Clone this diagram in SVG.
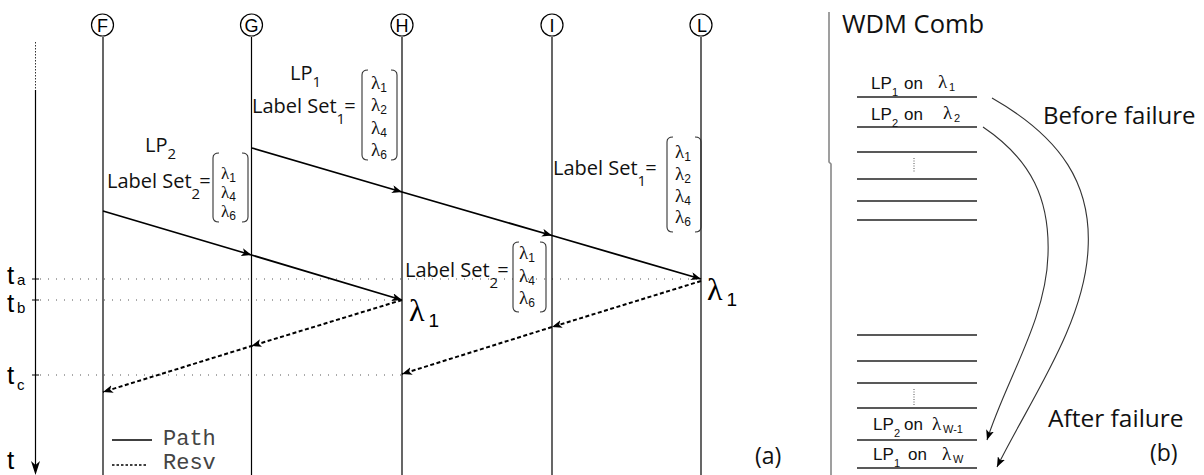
<svg xmlns="http://www.w3.org/2000/svg" width="1204" height="475" viewBox="0 0 1204 475">
<style>
.bg{fill:#fff}
.life{stroke:#000;stroke-width:1.2;fill:none}
.circ{fill:#fff;stroke:#000;stroke-width:1.2}
.ntxt{font-family:"Liberation Sans",Arial,sans-serif;font-size:18px;fill:#000;text-anchor:middle}
.lbl{font-family:"Open Sans","Liberation Sans",sans-serif;font-size:20px;fill:#111}
.sub{font-size:15px}
.lam{font-family:"Liberation Serif","DejaVu Serif",serif;font-size:19px;fill:#111}
.lam2{font-size:17px}
.lsub{font-family:"Liberation Sans",Arial,sans-serif;font-size:12px}
.brk{fill:none;stroke:#333;stroke-width:1.1}
.path{stroke:#000;stroke-width:1.8;fill:none}
.resv{stroke:#000;stroke-width:2;fill:none;stroke-dasharray:4 2.5}
.tdot{stroke:#555;stroke-width:1;stroke-dasharray:1 7;fill:none}
.tl{font-family:"Liberation Sans",Arial,sans-serif;font-size:26px;fill:#000}
.ts{font-family:"Liberation Sans",Arial,sans-serif;font-size:15px;fill:#000}
.big{font-family:"Liberation Serif","DejaVu Serif",serif;font-size:32px;fill:#000}
.bigs{font-family:"Liberation Sans",Arial,sans-serif;font-size:19px;fill:#000}
.mono{font-family:"Liberation Mono","Courier New",monospace;font-size:22px;fill:#444}
.comb{stroke:#222;stroke-width:1.4}
.ctxt{font-family:"Liberation Sans",Arial,sans-serif;font-size:17px;fill:#111}
.clam{font-family:"Liberation Serif","DejaVu Serif",serif;font-size:19px}
.csub{font-size:11px}
.curve{stroke:#333;stroke-width:1.1;fill:none}
</style>
<defs>
<marker id="ah" markerUnits="userSpaceOnUse" markerWidth="11" markerHeight="8" refX="10" refY="4" orient="auto" viewBox="0 0 11 8">
<path d="M0,0 L10,4 L0,8 L2.5,4 Z" fill="#000"/>
</marker>
<marker id="ah2" markerUnits="userSpaceOnUse" markerWidth="11" markerHeight="8" refX="10" refY="4" orient="auto" viewBox="0 0 11 8">
<path d="M0,0 L10,4 L0,8 L2.5,4 Z" fill="#000"/>
</marker>
</defs>
<rect class="bg" x="0" y="0" width="1204" height="475"/>

<!-- time axis -->
<g id="time-axis">
<line x1="35.5" y1="42" x2="35.5" y2="90" stroke="#333" stroke-width="1" stroke-dasharray="1.5 1.5"/>
<line x1="35.5" y1="90" x2="35.5" y2="466" stroke="#000" stroke-width="1.2"/>
<path d="M31,461 L35.5,475 L40,461 L35.5,465 Z" fill="#000"/>
<line x1="32" y1="279" x2="39" y2="279" stroke="#000" stroke-width="1"/>
<line x1="32" y1="300" x2="39" y2="300" stroke="#000" stroke-width="1"/>
<line x1="32" y1="375" x2="39" y2="375" stroke="#000" stroke-width="1"/>
<text class="tl" x="7" y="284">t</text><text class="ts" x="17" y="285">a</text>
<text class="tl" x="7" y="312">t</text><text class="ts" x="17" y="313">b</text>
<text class="tl" x="7" y="384">t</text><text class="ts" x="17" y="390">c</text>
<text class="tl" x="7" y="469">t</text>
</g>

<!-- time marker dotted lines -->
<g id="time-markers">
<line class="tdot" x1="40" y1="279" x2="701" y2="279"/>
<line class="tdot" x1="40" y1="300" x2="402" y2="300"/>
<line class="tdot" x1="40" y1="375" x2="402" y2="375"/>
</g>

<!-- nodes -->
<g id="node-F"><line class="life" x1="103" y1="37" x2="103" y2="475"/><circle class="circ" cx="102.5" cy="25" r="11"/><text class="ntxt" x="102.5" y="31.5">F</text></g>
<g id="node-G"><line class="life" x1="251.5" y1="37" x2="251.5" y2="475"/><circle class="circ" cx="251.5" cy="25" r="11"/><text class="ntxt" x="251.5" y="31.5">G</text></g>
<g id="node-H"><line class="life" x1="402" y1="37" x2="402" y2="475"/><circle class="circ" cx="402" cy="25" r="11"/><text class="ntxt" x="402" y="31.5">H</text></g>
<g id="node-I"><line class="life" x1="552" y1="37" x2="552" y2="475"/><circle class="circ" cx="552" cy="25" r="11"/><text class="ntxt" x="552" y="31.5">I</text></g>
<g id="node-L"><line class="life" x1="701" y1="37" x2="701" y2="475"/><circle class="circ" cx="701" cy="25" r="11"/><text class="ntxt" x="702" y="31.5">L</text></g>

<!-- connectors -->
<g id="connectors">
<polyline class="path" points="252,148 402,192 552,235.5 701,279" marker-mid="url(#ah)" marker-end="url(#ah)"/>
<polyline class="path" points="103,211 251.5,255 402,300" marker-mid="url(#ah)" marker-end="url(#ah)"/>
<polyline class="resv" points="402,300 251.5,346 103,392" marker-mid="url(#ah)" marker-end="url(#ah)"/>
<polyline class="resv" points="701,281 552,327 402,374" marker-mid="url(#ah)" marker-end="url(#ah)"/>
</g>

<!-- labels -->
<g id="lp1-label">
<text class="lbl" x="290" y="80">LP<tspan class="sub" dy="7">1</tspan></text>
<text class="lbl" x="252" y="113">Label Set<tspan class="sub" dy="11">1</tspan><tspan dy="-11" dx="-1">=</tspan></text>
<path class="brk" d="M368,70 Q362,70 362,75 L362,155 Q362,160 368,160 M391,70 Q397,70 397,75 L397,155 Q397,160 391,160"/>
<text class="lam" x="371" y="89">λ<tspan class="lsub" dy="3">1</tspan></text>
<text class="lam" x="371" y="111">λ<tspan class="lsub" dy="3">2</tspan></text>
<text class="lam" x="371" y="134">λ<tspan class="lsub" dy="3">4</tspan></text>
<text class="lam" x="371" y="156">λ<tspan class="lsub" dy="3">6</tspan></text>
</g>

<g id="lp2-label">
<text class="lbl" x="145" y="152">LP<tspan class="sub" dy="7">2</tspan></text>
<text class="lbl" x="107" y="188">Label Set<tspan class="sub" dy="11">2</tspan><tspan dy="-11" dx="-1">=</tspan></text>
<path class="brk" d="M219,153 Q213,153 213,158 L213,217 Q213,222 219,222 M242,153 Q248,153 248,158 L248,217 Q248,222 242,222"/>
<text class="lam lam2" x="221" y="179">λ<tspan class="lsub" dy="3">1</tspan></text>
<text class="lam lam2" x="221" y="198">λ<tspan class="lsub" dy="3">4</tspan></text>
<text class="lam lam2" x="221" y="217">λ<tspan class="lsub" dy="3">6</tspan></text>
</g>

<g id="lp1-label-L">
<text class="lbl" x="553" y="175">Label Set<tspan class="sub" dy="11">1</tspan><tspan dy="-11" dx="-1">=</tspan></text>
<path class="brk" d="M673,137 Q667,137 667,142 L667,227 Q667,232 673,232 M695,137 Q701,137 701,142 L701,227 Q701,232 695,232"/>
<text class="lam" x="675" y="158">λ<tspan class="lsub" dy="3">1</tspan></text>
<text class="lam" x="675" y="180">λ<tspan class="lsub" dy="3">2</tspan></text>
<text class="lam" x="675" y="202">λ<tspan class="lsub" dy="3">4</tspan></text>
<text class="lam" x="675" y="223">λ<tspan class="lsub" dy="3">6</tspan></text>
</g>

<g id="lp2-label-I">
<text class="lbl" x="405" y="277">Label Set<tspan class="sub" dy="11">2</tspan><tspan dy="-11" dx="-1">=</tspan></text>
<path class="brk" d="M519,242 Q513,242 513,247 L513,307 Q513,312 519,312 M540,242 Q546,242 546,247 L546,307 Q546,312 540,312"/>
<text class="lam" x="519" y="259">λ<tspan class="lsub" dy="3">1</tspan></text>
<text class="lam" x="519" y="282">λ<tspan class="lsub" dy="3">4</tspan></text>
<text class="lam" x="519" y="304">λ<tspan class="lsub" dy="3">6</tspan></text>
</g>

<g id="lambda-H"><text class="big" x="409" y="321">λ<tspan class="bigs" dx="4" dy="6">1</tspan></text></g>
<g id="lambda-L"><text class="big" x="707" y="300">λ<tspan class="bigs" dx="4" dy="6">1</tspan></text></g>

<g id="legend">
<line x1="112" y1="440" x2="152" y2="440" stroke="#000" stroke-width="1.6"/>
<text class="mono" x="163" y="445">Path</text>
<line x1="112" y1="465" x2="148" y2="465" stroke="#000" stroke-width="1.6" stroke-dasharray="2.5 2"/>
<text class="mono" x="163" y="469">Resv</text>
</g>
<text class="lbl" x="755" y="464" style="font-size:23px">(a)</text>

<!-- panel (b) -->
<g id="panel-b">
<polyline points="829,12 829,162 831,164 831,475" stroke="#888" stroke-width="1.6" fill="none"/>
<text class="lbl" x="842" y="33" style="font-size:25.5px">WDM Comb</text>
<g id="comb-lines">
<line class="comb" x1="857" y1="97" x2="977" y2="97"/>
<line class="comb" x1="857" y1="127" x2="977" y2="127"/>
<line class="comb" x1="857" y1="152" x2="977" y2="152"/>
<line class="comb" x1="857" y1="179" x2="977" y2="179"/>
<line class="comb" x1="857" y1="201" x2="977" y2="201"/>
<line class="comb" x1="857" y1="220" x2="977" y2="220"/>
<line class="comb" x1="857" y1="335" x2="977" y2="335"/>
<line class="comb" x1="857" y1="361" x2="977" y2="361"/>
<line class="comb" x1="857" y1="383" x2="977" y2="383"/>
<line class="comb" x1="857" y1="408" x2="977" y2="408"/>
<line class="comb" x1="857" y1="440" x2="977" y2="440"/>
<line class="comb" x1="857" y1="468" x2="977" y2="468"/>
<line x1="914" y1="158" x2="914" y2="173" stroke="#555" stroke-width="1" stroke-dasharray="1 1.5"/>
<line x1="914" y1="389" x2="914" y2="405" stroke="#555" stroke-width="1" stroke-dasharray="1 1.5"/>
</g>
<text class="ctxt" x="871" y="89">LP<tspan class="csub" x="892" y="96">1</tspan><tspan x="904" y="89">on</tspan><tspan class="clam" x="938" y="88">λ</tspan><tspan class="csub" x="949" y="91">1</tspan></text>
<text class="ctxt" x="871" y="120">LP<tspan class="csub" x="892" y="127">2</tspan><tspan x="904" y="120">on</tspan><tspan class="clam" x="943" y="119">λ</tspan><tspan class="csub" x="954" y="122">2</tspan></text>
<text class="ctxt" x="873" y="430">LP<tspan class="csub" x="894" y="437">2</tspan><tspan x="904" y="430">on</tspan><tspan class="clam" x="932" y="430">λ</tspan><tspan class="csub" x="943" y="433">W-1</tspan></text>
<text class="ctxt" x="873" y="460">LP<tspan class="csub" x="894" y="467">1</tspan><tspan x="908" y="460">on</tspan><tspan class="clam" x="942" y="460">λ</tspan><tspan class="csub" x="953" y="463">W</tspan></text>
<g id="transition-arrows">
<path class="curve" d="M992,98 C1062,138 1092,185 1088,250 C1084,325 1030,400 997,467" marker-end="url(#ah2)"/>
<path class="curve" d="M983,127 C1032,160 1050,200 1048,255 C1046,320 1006,380 987,440" marker-end="url(#ah2)"/>
</g>
<text class="lbl" x="1043" y="124" style="font-size:24px">Before failure</text>
<text class="lbl" x="1048" y="427" style="font-size:24.5px">After failure</text>
<text class="lbl" x="1150" y="461" style="font-size:23px">(b)</text>
</g>
</svg>
